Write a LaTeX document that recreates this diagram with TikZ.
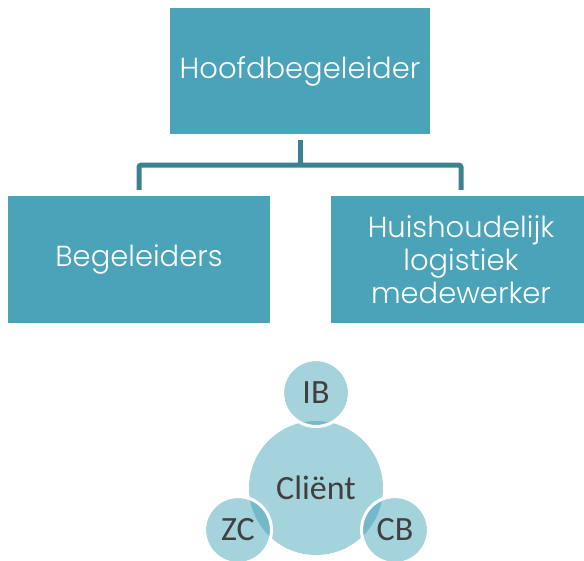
\documentclass[tikz,border=0pt]{standalone}
\usepackage{fontspec}
\setmainfont{Poppins}[UprightFont=* Light]
\newfontfamily\circfont{Carlito}
\definecolor{boxteal}{HTML}{4AA3B8}
\definecolor{lineteal}{HTML}{3B8291}
\definecolor{lightteal}{HTML}{A5D3DC}
\definecolor{lensteal}{HTML}{74B9CA}
\definecolor{textgrey}{HTML}{404040}
\begin{document}
\begin{tikzpicture}[x=1pt,y=-1pt,
	box/.style={fill=boxteal,text=white,inner sep=0pt,minimum width=260pt,minimum height=126pt,align=center,font=\fontsize{29}{33}\selectfont},
	link/.style={draw=lineteal,line width=5pt,rounded corners=2pt},
	bubble/.style={circle,fill=lightteal,inner sep=0pt,text=textgrey,font=\circfont\fontsize{34}{34}\selectfont}]
		\useasboundingbox (0,0) rectangle (584,560);
		% organisatie
		\node[box] (hoofd) at (300,71) {Hoofdbegeleider};
		\node[box,minimum width=262pt,minimum height=127pt] (begel) at (139,259.5) {Begeleiders};
		\node[box,minimum height=127pt] (huish) at (461,259.5) {Huishoudelijk\\logistiek\\medewerker};
		\draw[link] ([yshift=-6pt]hoofd.south) -- ([yshift=-31pt]hoofd.south);
		\draw[link] ([yshift=6pt]begel.north) |- ([yshift=-31pt]hoofd.south) -| ([yshift=6pt]huish.north);
		% client met IB, ZC en CB
		\node[bubble,minimum size=134pt] (client) at (316,488) {Cliënt};
		\foreach \naam/\pos in {ib/{(316,393)},zc/{(238,530)},cb/{(395,530)}}{
			\fill[lightteal] \pos circle (32);
			\begin{scope}
				\clip (client.center) circle (67);
				\fill[lensteal] \pos circle (32);
			\end{scope}
			\draw[white,line width=3pt] \pos circle (33.5);
		}
		\node[bubble,fill=none] (ib) at (316,393) {IB};
		\node[bubble,fill=none] (zc) at (238,530) {ZC};
		\node[bubble,fill=none] (cb) at (395,530) {CB};
\end{tikzpicture}
\end{document}
